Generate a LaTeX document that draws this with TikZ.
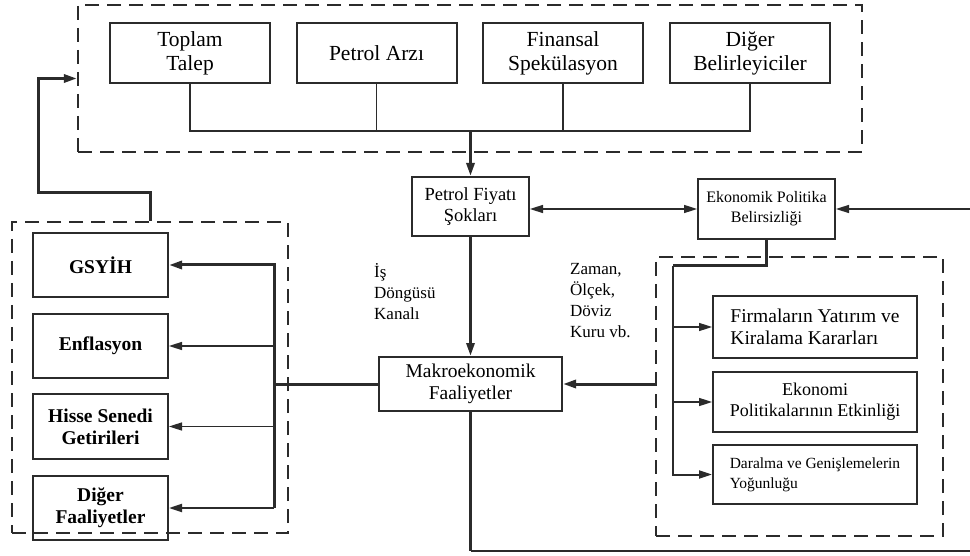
\documentclass[tikz,border=0pt]{standalone}
\usepackage{fontspec}
\setmainfont{Liberation Serif}
\usetikzlibrary{arrows.meta,calc}
\definecolor{ink}{HTML}{2B2B2B}
\begin{document}
\begin{tikzpicture}[x=1pt,y=-1pt,
  box/.style={draw=ink, line width=2pt, inner sep=0pt, align=center, text=black},
  grp/.style={draw=ink, line width=2.2pt, dash pattern=on 14pt off 8pt, inner sep=0pt},
  thin/.style={draw=ink, line width=1.6pt},
  mid/.style={draw=ink, line width=2pt},
  thk/.style={draw=ink, line width=3pt},
  arr/.style={-{Triangle[length=13pt,width=8pt]}},
  darr/.style={{Triangle[length=13pt,width=8pt]}-{Triangle[length=13pt,width=8pt]}},
  lbl/.style={inner sep=0pt, align=left, anchor=north west},
  topbox/.style={box, minimum width=160pt, minimum height=60pt, font=\fontsize{21.5}{24}\selectfont},
  lbox/.style={box, minimum width=135pt, font=\bfseries\fontsize{19.5}{22}\selectfont},
  rbox/.style={box, minimum width=204pt}
]
\useasboundingbox (0,0) rectangle (970,556);

% group boxes
\node[grp, minimum width=784pt, minimum height=147pt] (topgrp) at (470,78.5) {};
\node[grp, minimum width=276pt, minimum height=311pt] (leftgrp) at (150,377.5) {};
\node[grp, minimum width=287pt, minimum height=279pt] (rightgrp) at (799.5,396.5) {};

% top boxes
\node[topbox] (toplam) at (190,53) {Toplam\\Talep};
\node[topbox] (arz) at (376.5,53) {Petrol Arzı};
\node[topbox] (finans) at (563,53) {Finansal\\Spekülasyon};
\node[topbox] (diger) at (750,53) {Diğer\\Belirleyiciler};

% central boxes
\node[box, minimum width=117pt, minimum height=59pt, font=\fontsize{18.5}{21}\selectfont] (petrol) at (470.5,206.5) {Petrol Fiyatı\\Şokları};
\node[box, minimum width=137pt, minimum height=60pt, font=\fontsize{16}{20}\selectfont] (ekon) at (766.5,209) {Ekonomik Politika\\Belirsizliği};
\node[box, minimum width=183pt, minimum height=54pt, font=\fontsize{19.5}{21.5}\selectfont] (makro) at (470.5,384) {Makroekonomik\\Faaliyetler};

% labels
\node[lbl, font=\fontsize{17}{21}\selectfont] (is) at (374,263) {İş\\Döngüsü\\Kanalı};
\node[lbl, font=\fontsize{17}{21}\selectfont] (zaman) at (570,263) {Zaman,\\Ölçek,\\Döviz\\Kuru vb.};

% left boxes
\node[lbox, minimum height=64pt] (gsyih) at (100.5,265) {GSYİH};
\node[lbox, minimum height=64pt] (enf) at (100.5,346) {Enflasyon};
\node[lbox, minimum height=65pt] (hisse) at (100.5,426.5) {Hisse Senedi\\Getirileri};
\node[lbox, minimum height=64pt] (dfaal) at (100.5,508) {Diğer\\Faaliyetler};

% right boxes
\node[rbox, minimum height=62pt, align=left, font=\fontsize{19.5}{22}\selectfont] (firm) at (815,327) {Firmaların Yatırım ve\\Kiralama Kararları};
\node[rbox, minimum height=60pt, font=\fontsize{18}{21}\selectfont] (ekpol) at (815,402) {Ekonomi\\Politikalarının Etkinliği};
\node[rbox, minimum height=59pt, align=left, font=\fontsize{15.5}{20}\selectfont] (dar) at (815,474.5) {Daralma ve Genişlemelerin\\Yoğunluğu};

% coordinates
\coordinate (tbus) at (470.5,131);
\coordinate (lj) at (274,384);
\coordinate (fb) at (38,193);
\coordinate (rb) at (673,266);
\coordinate (rin) at (970,209);
\coordinate (brc) at (970,551);

% top connectors
\draw[thin] (toplam.south) -- (toplam.south |- tbus) -- (diger.south |- tbus) -- (diger.south);
\draw[thin] (arz.south) -- (arz.south |- tbus);
\draw[thin] (finans.south) -- (finans.south |- tbus);
\draw[thk, arr] (tbus) -- (petrol.north);

% petrol <-> ekon, outside -> ekon
\draw[thin, darr] (petrol.east |- ekon.west) -- (ekon.west);
\draw[thin, arr] (rin) -- (ekon.east);

% petrol -> makro
\draw[thk, arr] (petrol.south) -- (makro.north);

% makro -> left group
\draw[thk] (makro.west) -- (lj);
\draw[thk, arr] (lj |- dfaal) -- (lj |- gsyih) -- (gsyih.east);
\draw[thin, arr] (lj |- enf) -- (enf.east);
\draw[thin, arr] (lj |- hisse) -- (hisse.east);
\draw[mid, arr] (lj |- dfaal) -- (dfaal.east);

% feedback left group -> top group
\draw[thk, arr] (leftgrp.north) |- (fb) |- (topgrp.west);

% ekon -> right group
\draw[thk] (ekon.south) |- (rb);
\draw[mid, arr] (rb) -- (rb |- dar) -- (dar.west);
\draw[thin, arr] (rb |- firm) -- (firm.west);
\draw[thin, arr] (rb |- ekpol) -- (ekpol.west);

% right group -> makro
\draw[thk, arr] (rightgrp.west |- makro.east) -- (makro.east);

% makro -> bottom
\draw[thk] (makro.south) -- (makro.south |- brc);
\draw[mid] (makro.south |- brc) -- (brc);
\end{tikzpicture}
\end{document}
